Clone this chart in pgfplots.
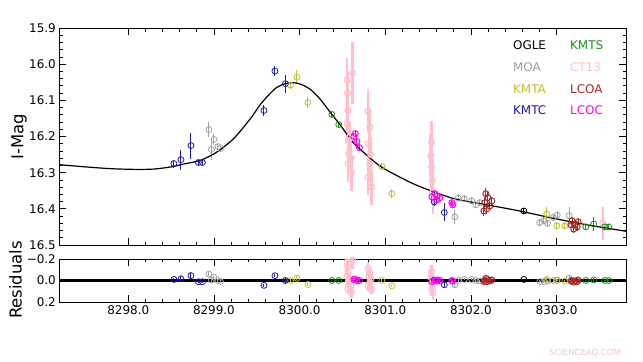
\documentclass[border=0pt]{standalone}
\usepackage{fontspec}
\setmainfont{DejaVu Sans}
\usepackage{pgfplots}
\usepackage{pgfplotstable}
\pgfplotsset{compat=1.18}

\definecolor{cogle}{HTML}{000000}
\definecolor{cmoa}{HTML}{A0A0A0}
\definecolor{ckmta}{HTML}{BFBF30}
\definecolor{ckmtc}{HTML}{1C1CA8}
\definecolor{ckmts}{HTML}{1E8C1E}
\definecolor{cct}{HTML}{FFC0CB}
\definecolor{clcoa}{HTML}{A52A2A}
\definecolor{clcoc}{HTML}{FF00FF}
\definecolor{cwm}{HTML}{F2C4C4}

% t = HJD-2450000 ; m = I mag ; e = error ; r = residual
\pgfplotstableread{
t m e r
8302.617 16.406 0.008 -0.01
}\ogle
\pgfplotstableread{
t m e r
8298.942 16.181 0.020 -0.060
8298.971 16.236 0.030 -0.005
8299.000 16.208 0.015 -0.030
8299.047 16.228 0.010 0.000
8299.076 16.233 0.010 0.010
8301.812 16.422 0.020 0.040
8301.851 16.370 0.010 0.000
8301.921 16.372 0.010 -0.010
8302.007 16.378 0.010 -0.010
8302.057 16.389 0.010 0.000
8302.104 16.383 0.010 0.005
8302.804 16.438 0.010 0.010
8302.851 16.433 0.010 0.010
8302.894 16.440 0.010 0.005
8302.959 16.424 0.010 0.000
8303.006 16.417 0.010 -0.005
8303.146 16.419 0.025 -0.020
}\moa
\pgfplotstableread{
t m e r
8299.893 16.058 0.010 0.000
8299.969 16.036 0.020 -0.020
8300.097 16.106 0.015 0.037
8300.960 16.283 0.010 0.000
8301.077 16.358 0.012 0.050
8302.886 16.414 0.020 -0.010
8303.002 16.447 0.010 0.000
8303.096 16.447 0.010 0.005
}\kmta
\pgfplotstableread{
t m e r
8298.533 16.275 0.011 -0.010
8298.615 16.264 0.028 -0.015
8298.732 16.225 0.036 -0.045
8298.819 16.272 0.008 0.012
8298.866 16.272 0.008 0.012
8299.584 16.128 0.015 0.045
8299.712 16.019 0.014 -0.045
8299.834 16.054 0.025 0.000
8301.572 16.381 0.010 -0.005
8301.689 16.410 0.025 0.040
}\kmtc
\pgfplotstableread{
t m e r
8300.376 16.139 0.008 0.000
8300.457 16.167 0.008 0.000
8303.341 16.450 0.008 0.000
8303.434 16.442 0.020 -0.005
8303.562 16.450 0.008 0.000
8303.609 16.450 0.008 0.000
}\kmts
\pgfplotstableread{
t m e r
8300.555 16.044 0.060 -0.170
8300.560 16.080 0.060 -0.130
8300.565 16.128 0.060 -0.080
8300.555 16.164 0.050 -0.040
8300.570 16.211 0.050 0.000
8300.575 16.247 0.050 0.040
8300.565 16.275 0.050 0.080
8300.620 16.025 0.085 -0.190
8300.600 16.260 0.050 0.050
8300.605 16.300 0.050 0.110
8300.590 16.200 0.040 -0.010
8300.800 16.130 0.060 -0.110
8300.820 16.174 0.050 -0.070
8300.810 16.220 0.050 -0.040
8300.830 16.250 0.050 -0.010
8300.820 16.276 0.050 0.020
8300.800 16.313 0.050 0.050
8300.840 16.340 0.050 0.080
8301.540 16.216 0.060 -0.080
8301.530 16.253 0.060 -0.030
8301.540 16.285 0.060 0.030
8301.550 16.322 0.060 0.080
8301.555 16.355 0.060 0.120
8303.540 16.440 0.046 nan
}\ctt
\pgfplotstableread{
t m e r
8302.174 16.358 0.015 -0.020
8302.197 16.369 0.015 -0.010
8302.162 16.383 0.012 0.000
8302.220 16.392 0.012 0.005
8302.186 16.400 0.015 0.010
8302.244 16.378 0.012 -0.005
8302.151 16.406 0.015 0.010
8303.180 16.433 0.010 0.000
8303.216 16.442 0.010 0.005
8303.240 16.450 0.010 0.010
8303.200 16.456 0.010 0.015
8303.168 16.444 0.010 0.005
8303.250 16.436 0.010 -0.005
}\lcoa
\pgfplotstableread{
t m e r
8300.633 16.200 0.010 -0.010
8300.650 16.192 0.010 -0.010
8300.669 16.214 0.010 0.000
8300.698 16.231 0.010 0.000
8301.580 16.358 0.010 0.000
8301.608 16.364 0.010 -0.005
8301.637 16.369 0.010 0.000
8301.602 16.375 0.010 0.005
8301.544 16.367 0.010 0.010
8301.777 16.383 0.010 0.000
8301.788 16.389 0.010 0.005
}\lcoc
\pgfplotstableread{
t m
8297.195 16.278
8297.500 16.284
8297.800 16.289
8298.100 16.291
8298.300 16.290
8298.500 16.284
8298.650 16.276
8298.840 16.266
8299.000 16.248
8299.110 16.230
8299.230 16.206
8299.340 16.176
8299.450 16.143
8299.540 16.112
8299.640 16.085
8299.730 16.065
8299.830 16.054
8299.925 16.051
8300.020 16.056
8300.120 16.069
8300.230 16.094
8300.354 16.132
8300.480 16.170
8300.620 16.215
8300.800 16.255
8300.960 16.285
8301.200 16.316
8301.400 16.338
8301.790 16.371
8302.190 16.389
8302.570 16.406
8302.960 16.426
8303.350 16.444
8303.810 16.462
}\model

\pgfplotsset{
  dat/.style={only marks, mark=o, mark size=3bp, color=#1,
    mark options={solid, line width=0.8bp},
    error bars/y dir=both, error bars/y explicit, error bars/error mark=none,
    error bars/error bar style={line width=1bp, solid}},
  datct/.style={dat=cct, mark options={solid, line width=1.2bp},
    error bars/error bar style={line width=2.6bp, solid}},
  datf/.style={dat=#1, mark options={solid, line width=1bp, fill=#1!70}},
  base/.style={
    scale only axis, width=566.7bp,
    xmin=8297.195, xmax=8303.81,
    xtick={8298,8299,8300,8301,8302,8303},
    minor x tick num=4,
    y dir=reverse,
    axis line style={line width=0.9bp},
    major tick length=7bp, minor tick length=3.5bp,
    every tick/.style={line width=0.8bp, black},
    tick label style={font=\fontsize{12}{14}\selectfont},
    clip=true,
  },
}

\begin{document}
\begin{tikzpicture}
\path[use as bounding box] (0,0) rectangle (643bp,362bp);

\begin{axis}[base, at={(59.3bp,117bp)}, anchor=south west, height=217bp,
  ymin=15.9, ymax=16.5,
  ytick={15.9,16.0,16.1,16.2,16.3,16.4,16.5},
  yticklabels={15.9,16.0,16.1,16.2,16.3,16.4,16.5},
  minor y tick num=4,
  xticklabels={},
]
\addplot[datct] table[x=t,y=m,y error=e]{\ctt};
\addplot[dat=cogle] table[x=t,y=m,y error=e]{\ogle};
\addplot[dat=cmoa] table[x=t,y=m,y error=e]{\moa};
\addplot[dat=ckmta] table[x=t,y=m,y error=e]{\kmta};
\addplot[dat=ckmtc] table[x=t,y=m,y error=e]{\kmtc};
\addplot[dat=ckmts] table[x=t,y=m,y error=e]{\kmts};
\addplot[datf=clcoa] table[x=t,y=m,y error=e]{\lcoa};
\addplot[datf=clcoc] table[x=t,y=m,y error=e]{\lcoc};
\addplot[black, line width=1.2bp, smooth, no marks] table[x=t,y=m]{\model};

\begin{scope}[every node/.style={anchor=west, font=\fontsize{12}{14}\selectfont, inner sep=0pt}]
\node[text=cogle] at (axis cs:8302.49,15.947) {OGLE};
\node[text=cmoa]  at (axis cs:8302.49,16.0075) {MOA};
\node[text=ckmta] at (axis cs:8302.49,16.069) {KMTA};
\node[text=ckmtc] at (axis cs:8302.49,16.128) {KMTC};
\node[text=ckmts] at (axis cs:8303.155,15.947) {KMTS};
\node[text=cct]   at (axis cs:8303.155,16.0075) {CT13};
\node[text=clcoa] at (axis cs:8303.155,16.069) {LCOA};
\node[text=clcoc] at (axis cs:8303.155,16.128) {LCOC};
\end{scope}
\end{axis}

\begin{axis}[base, at={(59.3bp,60bp)}, anchor=south west, height=43bp,
  ymin=-0.2, ymax=0.2,
  ytick={-0.2,0,0.2},
  yticklabels={−0.2,0.0,0.2},
  minor y tick num=0,
  xticklabels={8298.0,8299.0,8300.0,8301.0,8302.0,8303.0},
]
\addplot[black, line width=2.4bp, no marks] coordinates {(8297.195,0) (8303.81,0)};
\addplot[datct] table[x=t,y=r,y error=e]{\ctt};
\addplot[dat=cogle] table[x=t,y=r,y error=e]{\ogle};
\addplot[dat=cmoa] table[x=t,y=r,y error=e]{\moa};
\addplot[dat=ckmta] table[x=t,y=r,y error=e]{\kmta};
\addplot[dat=ckmtc] table[x=t,y=r,y error=e]{\kmtc};
\addplot[dat=ckmts] table[x=t,y=r,y error=e]{\kmts};
\addplot[datf=clcoa] table[x=t,y=r,y error=e]{\lcoa};
\addplot[datf=clcoc] table[x=t,y=r,y error=e]{\lcoc};
\end{axis}

\node[rotate=90, font=\fontsize{16.5}{18}\selectfont] at (19bp,225.5bp) {I-Mag};
\node[rotate=90, font=\fontsize{16.5}{18}\selectfont] at (15.5bp,82bp) {Residuals};
\node[text=cwm, font=\fontsize{8.5}{10}\selectfont] at (585bp,9bp) {SCIENCEAQ.COM};
\end{tikzpicture}
\end{document}
